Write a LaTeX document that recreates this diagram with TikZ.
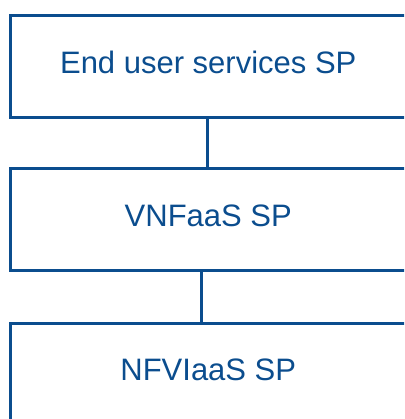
\documentclass[tikz,border=0pt]{standalone}
\usepackage{fontspec}
\setmainfont{Liberation Sans}
\definecolor{spblue}{RGB}{11,77,142}
\begin{document}
\begin{tikzpicture}[x=1pt,y=-1pt,
  spbox/.style={draw=spblue, line width=3pt, rectangle, inner sep=0pt,
    minimum width=395.5pt, text=spblue, font=\fontsize{31}{36}\selectfont,
    text height=22pt, text depth=9pt},
  link/.style={draw=spblue, line width=3pt}]
  \clip (0,0) rectangle (404,419);
  % service provider layers
  \node[spbox, minimum height=101.5pt] (eus) at (208.25,66.75) {End user services SP};
  \node[spbox, minimum height=101pt] (vnf) at (208.25,219.5) {VNFaaS SP};
  \node[spbox, minimum height=101pt] (nfvi) at (208.25,373.5) {NFVIaaS SP};
  % connectors between the layers
  \coordinate (c1) at (207.5,0);
  \coordinate (c2) at (201,0);
  \draw[link] (eus.south -| c1) -- (vnf.north -| c1);
  \draw[link] (vnf.south -| c2) -- (nfvi.north -| c2);
\end{tikzpicture}
\end{document}
